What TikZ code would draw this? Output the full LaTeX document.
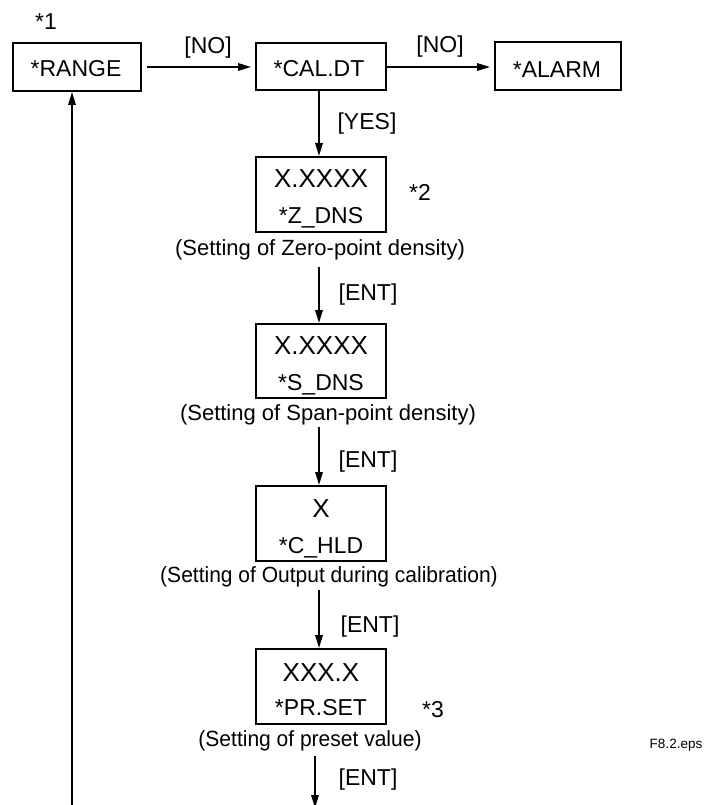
\documentclass[tikz,border=0pt]{standalone}
\usepackage{fontspec}
\setmainfont{Liberation Sans}
\newfontfamily\narrowcap[FakeStretch=0.955]{Liberation Sans}
\usetikzlibrary{arrows.meta}
\begin{document}
\begin{tikzpicture}[x=1pt,y=-1pt,
  box/.style={draw, line width=2pt, inner sep=0pt},
  lbl/.style={font=\fontsize{23}{27}\selectfont, inner sep=0pt},
  val/.style={font=\fontsize{26}{30}\selectfont, inner sep=0pt, anchor=base},
  nm/.style={font=\fontsize{23}{27}\selectfont, inner sep=0pt, anchor=base},
  captxt/.style={font=\fontsize{22}{26}\selectfont, inner sep=0pt},
  ncaptxt/.style={font=\narrowcap\fontsize{22}{26}\selectfont, inner sep=0pt},
  arr/.style={line width=1.7pt, -{Triangle[length=13pt,width=7.5pt]}}
]
\useasboundingbox (0,0) rectangle (708,805);

% top row
\node[lbl] (n1) at (46,22) {*1};
\node[box, minimum width=128pt, minimum height=48pt] (range) at (77,67) {};
\node[nm] (rangetxt) at (76,77) {*RANGE};
\node[box, minimum width=130pt, minimum height=47pt] (caldt) at (321,66.5) {};
\node[nm] (caldttxt) at (319,77) {*CAL.DT};
\node[box, minimum width=126pt, minimum height=48pt] (alarm) at (558,66.5) {};
\node[nm] (alarmtxt) at (557,78) {*ALARM};
\node[lbl] (no1) at (208,48) {[NO]};
\node[lbl] (no2) at (440,47) {[NO]};
\draw[arr, shorten <=5pt, shorten >=4pt] (range.east |- 0,67) -- (caldt.west |- 0,67);
\draw[arr, shorten >=4pt] (caldt.east |- 0,67) -- (alarm.west |- 0,67);

% Z_DNS
\node[box, minimum width=130pt, minimum height=75pt] (zdns) at (321,194.5) {};
\node[val] (zval) at (321,188) {X.XXXX};
\node[nm] (zname) at (321,223) {*Z\_DNS};
\node[lbl] (n2) at (420,192) {*2};
\node[captxt] (zcap) at (320,250) {(Setting of Zero-point density)};
\node[lbl] (yes) at (367,124) {[YES]};
\draw[arr] (caldt.south -| 319,0) -- (zdns.north -| 319,0);

% S_DNS
\node[box, minimum width=130pt, minimum height=74pt] (sdns) at (321,361) {};
\node[val] (sval) at (321,354) {X.XXXX};
\node[nm] (sname) at (321,390) {*S\_DNS};
\node[captxt] (scap) at (328,415) {(Setting of Span-point density)};
\node[lbl] (ent1) at (368,295) {[ENT]};
\draw[arr] (319,267) coordinate (a1) -- (sdns.north -| a1);

% C_HLD
\node[box, minimum width=130pt, minimum height=75pt] (chld) at (321,523.5) {};
\node[val] (cval) at (321,517) {X};
\node[nm] (cname) at (321,553) {*C\_HLD};
\node[ncaptxt] (ccap) at (329,577) {(Setting of Output during calibration)};
\node[lbl] (ent2) at (368,462) {[ENT]};
\draw[arr] (319,427) coordinate (a2) -- (chld.north -| a2);

% PR.SET
\node[box, minimum width=130pt, minimum height=75pt] (prset) at (321,686.5) {};
\node[val] (pval) at (321,681) {XXX.X};
\node[nm] (pname) at (321,715) {*PR.SET};
\node[lbl] (n3) at (433,710) {*3};
\node[ncaptxt] (pcap) at (310,741) {(Setting of preset value)};
\node[lbl] (ent3) at (370,627) {[ENT]};
\draw[arr] (319,590) coordinate (a3) -- (prset.north -| a3);

% bottom
\node[lbl] (ent4) at (368,780) {[ENT]};
\coordinate (a4) at (315,756);
\coordinate (a4end) at (315,808);
\draw[arr] (a4) -- (a4end);
\coordinate (loopstart) at (72,810);
\draw[arr] (loopstart) -- (range.south -| loopstart);

\node[font=\fontsize{13.5}{16}\selectfont, inner sep=0pt] (fname) at (676,745) {F8.2.eps};
\end{tikzpicture}
\end{document}
